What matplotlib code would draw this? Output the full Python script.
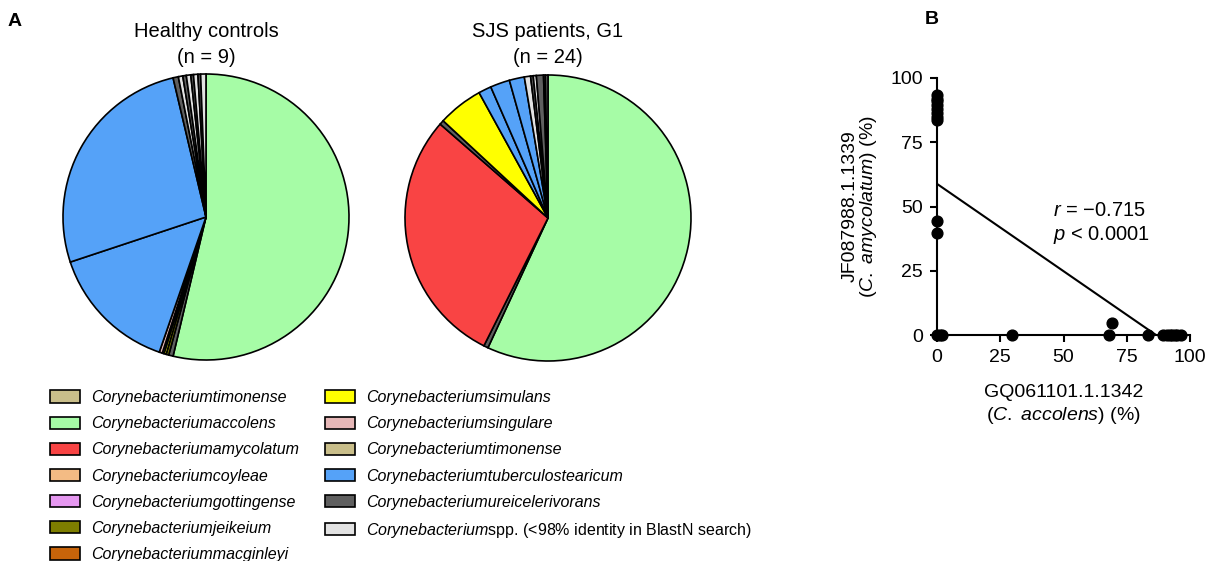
import numpy as np
import matplotlib
matplotlib.use("Agg")
import matplotlib.pyplot as plt
from matplotlib.patches import Patch

plt.rcParams["font.family"] = ["Liberation Sans", "DejaVu Sans"]
plt.rcParams["mathtext.fontset"] = "custom"
plt.rcParams["mathtext.rm"] = "Liberation Sans"
plt.rcParams["mathtext.it"] = "Liberation Sans:italic"

W, H = 1208, 561

# ---------- data ----------
species = ["timonense", "accolens", "amycolatum", "coyleae", "gottingense",
           "jeikeium", "macginleyi", "simulans", "singulare", "timonense",
           "tuberculostearicum", "ureicelerivorans",
           "spp. (<98% identity in BlastN search)"]
species_colors = ["#C9BE8A", "#A6FCA6", "#F94444", "#F3BB84", "#E597F0",
                  "#7E7E00", "#C8640A", "#FFFF00", "#E6B7B7", "#C9BE8A",
                  "#55A2F8", "#5F5F5F", "#E2E2E2"]
color_of = dict(zip(species, species_colors))
SPP = "spp. (<98% identity in BlastN search)"

# slice shares (%) in clockwise order from 12 o'clock
healthy_species = ["accolens", "ureicelerivorans", "jeikeium", "simulans", SPP,
                   "singulare", "tuberculostearicum", "tuberculostearicum",
                   "ureicelerivorans", SPP, "ureicelerivorans", SPP,
                   "ureicelerivorans", SPP, "ureicelerivorans", SPP]
healthy_share = [53.7, 0.5, 0.3, 0.25, 0.2, 0.35, 14.6, 26.4,
                 0.6, 0.5, 0.4, 0.5, 0.3, 0.5, 0.3, 0.6]

sjs_species = ["accolens", "ureicelerivorans", "amycolatum", "ureicelerivorans",
               "simulans", "tuberculostearicum", "tuberculostearicum",
               "tuberculostearicum", SPP, "ureicelerivorans", SPP,
               "ureicelerivorans", SPP, "ureicelerivorans"]
sjs_share = [56.9, 0.5, 29.0, 0.5, 5.1, 1.45, 2.2, 1.7,
             0.7, 0.3, 0.35, 0.8, 0.2, 0.3]

# panel B: relative abundance per patient (%)
accolens_pct = [0, 0, 0, 0, 0, 0, 0, 0, 0, 0, 0, 1, 2, 29.5, 67.8, 69, 83.5,
                89.5, 91, 92, 93, 94, 95, 96.5]
amycolatum_pct = [93.5, 92, 91, 89.5, 88, 86.5, 85, 83.5, 44.5, 39.5, 0, 0, 0,
                  0, 0, 4.5, 0, 0, 0, 0, 0, 0, 0, 0]
ticks = [0, 25, 50, 75, 100]


def frac(x0, y0, w, h):
    # pixel box (top-left origin) -> figure fraction
    return [x0 / W, 1 - (y0 + h) / H, w / W, h / H]


fig = plt.figure(figsize=(W / 100, H / 100), dpi=100)
fig.patch.set_facecolor("white")

# ---------- pies ----------
R = 143
pad = 150
for cx, cy, names, shares, title in [
        (206, 217, healthy_species, healthy_share, "Healthy controls\n(n = 9)"),
        (548, 218, sjs_species, sjs_share, "SJS patients, G1\n(n = 24)")]:
    ax = fig.add_axes(frac(cx - pad, cy - pad, 2 * pad, 2 * pad))
    ax.pie(shares, colors=[color_of[n] for n in names], startangle=90,
           counterclock=False, radius=1,
           wedgeprops=dict(edgecolor="black", linewidth=1.2))
    lim = pad / R
    ax.set_xlim(-lim, lim)
    ax.set_ylim(-lim, lim)
    ax.set_aspect("equal")
    ax.axis("off")
    fig.text(cx / W, 1 - 44.5 / H, title, ha="center", va="center",
             fontsize=14.5, linespacing=1.48)

# ---------- legend ----------
handles = [Patch(facecolor=c, edgecolor="black", linewidth=1.2)
           for c in species_colors]
labels = ["Corynebacterium" + s for s in species]
leg_kw = dict(frameon=False, handlelength=1.9, handleheight=0.8,
              handletextpad=0.65, labelspacing=0.7, borderpad=0,
              borderaxespad=0, loc="upper left",
              prop=dict(style="italic", size=11.5))
lg1 = fig.legend(handles[:7], labels[:7], bbox_to_anchor=(50 / W, 1 - 390 / H), **leg_kw)
lg2 = fig.legend(handles[7:], labels[7:], bbox_to_anchor=(325 / W, 1 - 390 / H), **leg_kw)
# genus italic, the rest of the last label upright
t = lg2.get_texts()[-1]
t.set_text("$\\it{Corynebacterium}$spp. (<98% identity in BlastN search)")
t.set_style("normal")

# ---------- scatter ----------
axb = fig.add_axes(frac(937, 78, 253, 257))
axb.scatter(accolens_pct, amycolatum_pct, s=60, color="black", zorder=3,
            clip_on=False)
slope, icpt = np.polyfit(accolens_pct, amycolatum_pct, 1)
xs = np.array([0, -icpt / slope])
axb.plot(xs, icpt + slope * xs, color="black", lw=1.5, zorder=2)
axb.set_xlim(0, 100)
axb.set_ylim(0, 100)
axb.set_xticks(ticks)
axb.set_yticks(ticks)
for s in ["top", "right"]:
    axb.spines[s].set_visible(False)
for s in ["left", "bottom"]:
    axb.spines[s].set_linewidth(1.5)
axb.tick_params(direction="out", length=5, width=1.5, labelsize=14, pad=5)
axb.set_xlabel("GQ061101.1.1342\n($\\it{C.\\ accolens}$) (%)", fontsize=14,
               labelpad=13, linespacing=1.3)
axb.set_ylabel("JF087988.1.1339\n($\\it{C.\\ amycolatum}$) (%)", fontsize=14,
               labelpad=8, linespacing=1.0)
axb.text(46, 48.5, "$\\it{r}$ = \u22120.715", fontsize=14.5, va="center")
axb.text(46, 39, "$\\it{p}$ < 0.0001", fontsize=14.5, va="center")

# panel letters
fig.text(15 / W, 1 - 21 / H, "A", fontsize=14, fontweight="bold",
         ha="center", va="center")
fig.text(932 / W, 1 - 20 / H, "B", fontsize=14, fontweight="bold",
         ha="center", va="center")

fig.savefig("out.png", dpi=100, facecolor="white")
